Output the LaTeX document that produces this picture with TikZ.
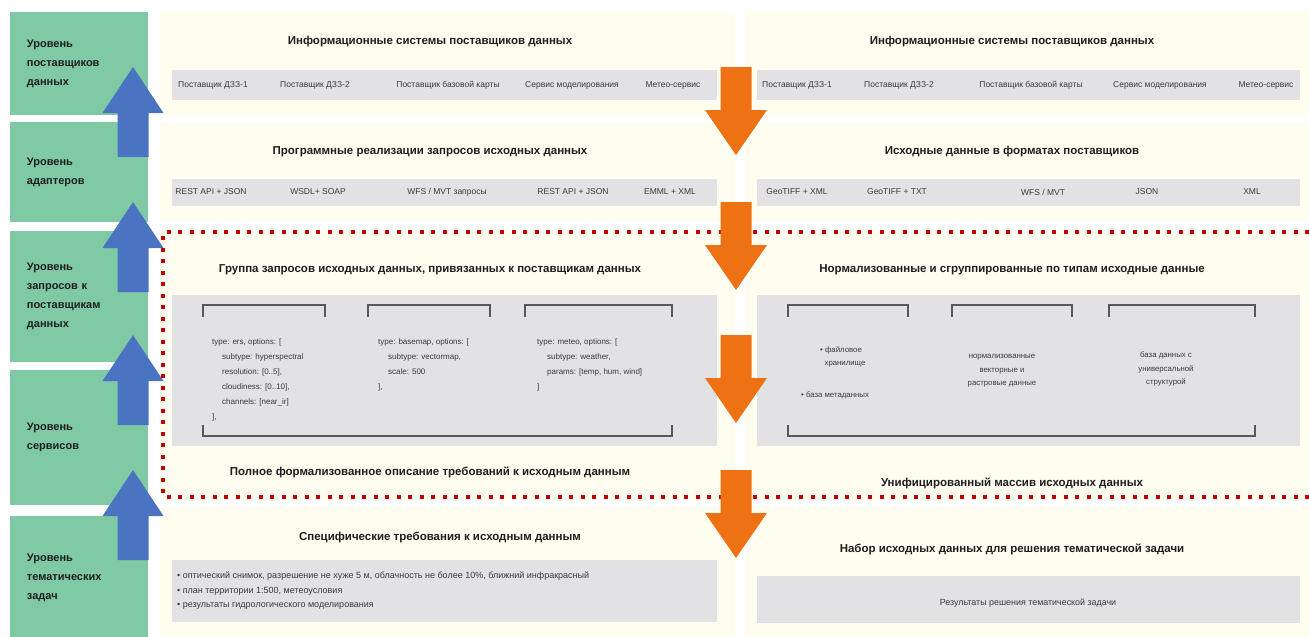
\documentclass[tikz,border=0pt]{standalone}
\usepackage{fontspec}
\setmainfont{Liberation Sans}
\usepackage{tikz}
\definecolor{lvGreen}{HTML}{7FC9A4}
\definecolor{pnCream}{HTML}{FFFDF0}
\definecolor{bxGray}{HTML}{E2E2E4}
\definecolor{upBlue}{HTML}{4A74C2}
\definecolor{dnOrange}{HTML}{EE7214}
\definecolor{dotRed}{HTML}{C00000}
\definecolor{txDark}{HTML}{1E1E1E}
\definecolor{txGray}{HTML}{3A3A3A}
\tikzset{lv/.style={fill=lvGreen, minimum width=138pt, inner xsep=17pt,
  text width=104pt, align=left, text=txDark,
  font=\fontsize{11}{19}\selectfont\bfseries}}
\tikzset{pn/.style={fill=pnCream}}
\tikzset{gb/.style={fill=bxGray}}
\tikzset{tt/.style={inner sep=0pt, text=txDark, font=\fontsize{11.5}{14}\selectfont\bfseries}}
\tikzset{it/.style={inner sep=0pt, text=txGray, font=\fontsize{8.5}{10}\selectfont}}
\tikzset{cd/.style={inner sep=0pt, anchor=north west, align=left, text=txGray,
  font=\fontsize{8}{15}\selectfont}}
\tikzset{cc/.style={inner sep=0pt, align=center, text=txGray,
  font=\fontsize{7.8}{13.5}\selectfont}}
\tikzset{br/.style={draw=txGray!85, line width=1.3pt}}
\tikzset{up/.style={fill=upBlue}}
\tikzset{dn/.style={fill=dnOrange}}
\tikzset{rd/.style={draw=dotRed, line width=3.5pt, dash pattern=on 4pt off 7.5pt}}

\begin{document}
\begin{tikzpicture}[x=1pt, y=-1pt]
        \useasboundingbox[fill=white] (0,0) rectangle (1309,637);
        %% levels
        \node (lv1) at (79,63.5) [lv, minimum height=103pt] {Уровень\\поставщиков\\данных};
        \node (lv2) at (79,172) [lv, minimum height=100pt] {Уровень\\адаптеров};
        \node (lv3) at (79,296.5) [lv, minimum height=131pt] {Уровень\\запросов к\\поставщикам\\данных};
        \node (lv4) at (79,437.5) [lv, minimum height=135pt] {Уровень\\сервисов};
        \node (lv5) at (79,578) [lv, minimum height=124pt] {Уровень\\тематических\\задач};
        %% panels
        \fill [pn] (160,12) rectangle (735,115);
        \fill [pn] (160,122) rectangle (735,222);
        \fill [pn] (160,231) rectangle (735,500);
        \fill [pn] (160,507) rectangle (735,637);
        \fill [pn] (745,12) rectangle (1309,115);
        \fill [pn] (745,122) rectangle (1309,222);
        \fill [pn] (745,231) rectangle (1309,500);
        \fill [pn] (745,507) rectangle (1309,637);
        \fill [gb] (172,70) rectangle (717,100);
        \fill [gb] (757,70) rectangle (1300,100);
        \fill [gb] (172,179) rectangle (717,206);
        \fill [gb] (757,179) rectangle (1300,206);
        \fill [gb] (172,295) rectangle (717,446);
        \fill [gb] (757,295) rectangle (1300,446);
        \fill [gb] (172,560) rectangle (717,622);
        \fill [gb] (757,576) rectangle (1300,623);
        %% providers
        \node (tl1) at (430,42) [tt] {Информационные системы поставщиков данных};
        \node (p1) at (213,85) [it] {Поставщик ДЗЗ-1};
        \node (p2) at (315,85) [it] {Поставщик ДЗЗ-2};
        \node (p3) at (448,85) [it] {Поставщик базовой карты};
        \node (p4) at (572,85) [it] {Сервис моделирования};
        \node (p5) at (673,85) [it] {Метео-сервис};
        \node (tr1) at (1012,42) [tt] {Информационные системы поставщиков данных};
        \node (q1) at (797,85) [it] {Поставщик ДЗЗ-1};
        \node (q2) at (899,85) [it] {Поставщик ДЗЗ-2};
        \node (q3) at (1031,85) [it] {Поставщик базовой карты};
        \node (q4) at (1160,85) [it] {Сервис моделирования};
        \node (q5) at (1266,85) [it] {Метео-сервис};
        %% adapters
        \node (tl2) at (430,152) [tt] {Программные реализации запросов исходных данных};
        \node (a1) at (211,192) [it] {REST API + JSON};
        \node (a2) at (318,192) [it] {WSDL+ SOAP};
        \node (a3) at (447,192) [it] {WFS / MVT запросы};
        \node (a4) at (573,192) [it] {REST API + JSON};
        \node (a5) at (670,192) [it] {EMML + XML};
        \node (tr2) at (1012,152) [tt] {Исходные данные в форматах поставщиков};
        \node (f1) at (797,192) [it] {GeoTIFF + XML};
        \node (f2) at (897,192) [it] {GeoTIFF + TXT};
        \node (f3) at (1043,192) [it] {WFS / MVT};
        \node (f4) at (1147,192) [it] {JSON};
        \node (f5) at (1252,192) [it] {XML};
        %% requests
        \node (tl3) at (430,270) [tt] {Группа запросов исходных данных, привязанных к поставщикам данных};
        \draw [br] (203,317) -- (203,305) -- (325,305) -- (325,317);
        \draw [br] (368,317) -- (368,305) -- (490,305) -- (490,317);
        \draw [br] (525,317) -- (525,305) -- (672,305) -- (672,317);
        \draw [br] (203,425) -- (203,436) -- (672,436) -- (672,425);
        \node (c1) at (212,338) [cd] {type: ers, options: [\\
          \hspace*{10pt}subtype: hyperspectral\\
          \hspace*{10pt}resolution: [0..5],\\
          \hspace*{10pt}cloudiness: [0..10],\\
          \hspace*{10pt}channels: [near\_ir]\\
          ],};
        \node (c2) at (378,338) [cd] {type: basemap, options: [\\
          \hspace*{10pt}subtype: vectormap,\\
          \hspace*{10pt}scale: 500\\
          ],};
        \node (c3) at (537,338) [cd] {type: meteo, options: [\\
          \hspace*{10pt}subtype: weather,\\
          \hspace*{10pt}params: [temp, hum, wind]\\
          ]};
        \node (tl4) at (430,472) [tt] {Полное формализованное описание требований к исходным данным};
        %% services
        \node (tr3) at (1012,270) [tt] {Нормализованные и сгруппированные по типам исходные данные};
        \draw [br] (788,317) -- (788,305) -- (908,305) -- (908,317);
        \draw [br] (952,317) -- (952,305) -- (1072,305) -- (1072,317);
        \draw [br] (1109,317) -- (1109,305) -- (1255,305) -- (1255,317);
        \draw [br] (788,425) -- (788,436) -- (1255,436) -- (1255,425);
        \node (s1) at (841,357) [cc] {• файловое\\\hspace*{8pt}хранилище};
        \node (s2) at (835,395) [cc] {• база метаданных};
        \node (s3) at (1002,371) [cc] {нормализованные\\векторные и\\растровые данные};
        \node (s4) at (1166,369) [cc] {база данных с\\универсальной\\структурой};
        \node (tr4) at (1012,483) [tt] {Унифицированный массив исходных данных};
        %% tasks
        \node (tl5) at (440,537) [tt] {Специфические требования к исходным данным};
        \node (b1) at (177,572) [cd, font=\fontsize{9}{14.5}\selectfont] {• оптический снимок, разрешение не хуже 5 м, облачность не более 10\%, ближний инфракрасный\\
          • план территории 1:500, метеоусловия\\
          • результаты гидрологического моделирования};
        \node (tr5) at (1012,549) [tt] {Набор исходных данных для решения тематической задачи};
        \node (r1) at (1028,603) [it, font=\fontsize{8.9}{10}\selectfont] {Результаты решения тематической задачи};
        %% borders and arrows
        \draw [rd] (1309,232) -- (163,232) -- (163,497) -- (1309,497);
        \fill [up, shift={(133,67)}] (0,0) -- (30.5,46) -- (15.5,46) -- (15.5,90) -- (-15.5,90) -- (-15.5,46) -- (-30.5,46) -- cycle;
        \fill [up, shift={(133,202)}] (0,0) -- (30.5,46) -- (15.5,46) -- (15.5,90) -- (-15.5,90) -- (-15.5,46) -- (-30.5,46) -- cycle;
        \fill [up, shift={(133,335)}] (0,0) -- (30.5,46) -- (15.5,46) -- (15.5,90) -- (-15.5,90) -- (-15.5,46) -- (-30.5,46) -- cycle;
        \fill [up, shift={(133,470)}] (0,0) -- (30.5,46) -- (15.5,46) -- (15.5,90) -- (-15.5,90) -- (-15.5,46) -- (-30.5,46) -- cycle;
        \fill [dn, shift={(736,67)}] (-15.5,0) -- (15.5,0) -- (15.5,43) -- (31,43) -- (0,88) -- (-31,43) -- (-15.5,43) -- cycle;
        \fill [dn, shift={(736,202)}] (-15.5,0) -- (15.5,0) -- (15.5,43) -- (31,43) -- (0,88) -- (-31,43) -- (-15.5,43) -- cycle;
        \fill [dn, shift={(736,335)}] (-15.5,0) -- (15.5,0) -- (15.5,43) -- (31,43) -- (0,88) -- (-31,43) -- (-15.5,43) -- cycle;
        \fill [dn, shift={(736,470)}] (-15.5,0) -- (15.5,0) -- (15.5,43) -- (31,43) -- (0,88) -- (-31,43) -- (-15.5,43) -- cycle;
\end{tikzpicture}
\end{document}
